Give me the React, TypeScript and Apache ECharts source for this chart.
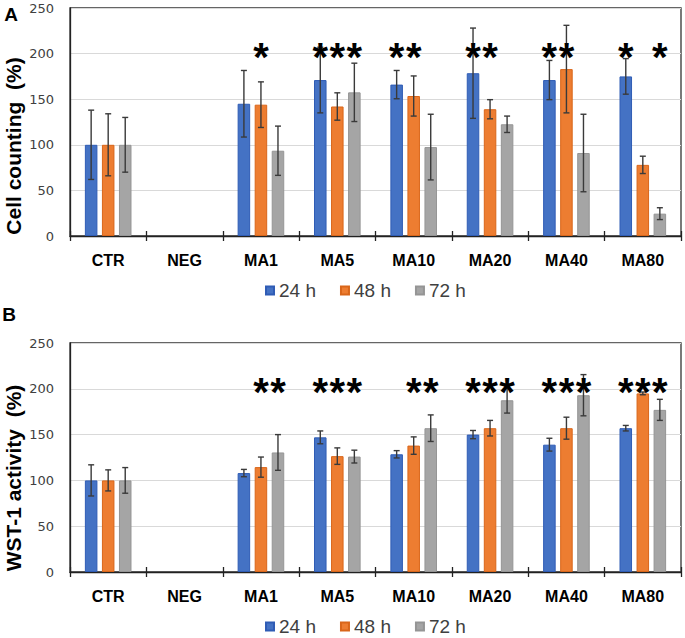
import React, { useEffect, useRef } from "react";
import * as echarts from "echarts";

// ---------- data ----------
const categories = ["CTR", "NEG", "MA1", "MA5", "MA10", "MA20", "MA40", "MA80"];
const seriesNames = ["24 h", "48 h", "72 h"];
const yTicks = [0, 50, 100, 150, 200, 250];

// Panel A: Cell counting (%)
const cell24 = [100, null, 145, 171, 166, 178.5, 171, 175];
const cell48 = [100, null, 144, 142, 153.5, 139, 183, 78];
const cell72 = [100, null, 93.5, 157.5, 97.5, 122.5, 91, 24.5];
const cellErr24 = [38, null, 36.5, 36, 15.5, 49.5, 21.5, 19.5];
const cellErr48 = [34, null, 25, 15, 22, 10.5, 48, 9.5];
const cellErr72 = [30, null, 27, 32, 36, 9, 42.5, 6.5];
// stars: indices of bars (0=24h,1=48h,2=72h) marked with "*"
const cellStars = [[], [], [1], [0, 1, 2], [0, 1], [0, 1], [0, 1], [0, 2]];

// Panel B: WST-1 activity (%)
const wst24 = [100, null, 108, 147, 128.5, 150, 139, 157];
const wst48 = [100, null, 114.5, 126.5, 138, 157, 157, 195];
const wst72 = [100, null, 130.5, 126, 157, 187.5, 193, 177];
const wstErr24 = [17, null, 4, 7, 4, 4.5, 7, 3];
const wstErr48 = [11.5, null, 11, 9, 9.5, 8.5, 12, 1.5];
const wstErr72 = [14, null, 19.5, 7, 14.5, 14, 22.5, 11.5];
const wstStars = [[], [], [1, 2], [0, 1, 2], [1, 2], [0, 1, 2], [0, 1, 2], [0, 1, 2]];

const starLevel = 207;

// ---------- style ----------
const colors = ["#4472C4", "#ED7D31", "#A5A5A5"];
const borders = ["#2F5CB5", "#D9661A", "#959595"];
const BAR_W = 0.164; // fraction of band
const BAR_GAP = 0.36; // fraction of bar width
const OFFSET = BAR_W * (1 + BAR_GAP);
const ERR_COLOR = "#3a3a3a";

function errData(vals: (number | null)[], errs: (number | null)[]) {
  const out: number[][] = [];
  vals.forEach((v, i) => {
    const e = errs[i];
    if (v != null && e != null) out.push([i, v - e, v + e]);
  });
  return out;
}

function starData(stars: number[][]) {
  const out: number[][] = [];
  stars.forEach((list, i) => list.forEach((k) => out.push([i, k, starLevel])));
  return out;
}

const errRender = (k: number) => (params: any, api: any) => {
  const cat = api.value(0);
  const lo = api.value(1);
  const hi = api.value(2);
  const band = api.size([1, 0])[0];
  const dx = (k - 1) * OFFSET * band;
  const top = api.coord([cat, hi]);
  const bot = api.coord([cat, lo]);
  const x = top[0] + dx;
  const cap = 3;
  const style = { stroke: ERR_COLOR, lineWidth: 1.4 };
  return {
    type: "group",
    children: [
      { type: "line", shape: { x1: x, y1: top[1], x2: x, y2: bot[1] }, style },
      { type: "line", shape: { x1: x - cap, y1: top[1], x2: x + cap, y2: top[1] }, style },
      { type: "line", shape: { x1: x - cap, y1: bot[1], x2: x + cap, y2: bot[1] }, style },
    ],
  };
};

const STAR_SIZE = 40;
const starRender = (params: any, api: any) => {
  const cat = api.value(0);
  const k = api.value(1);
  const lvl = api.value(2);
  const band = api.size([1, 0])[0];
  const p = api.coord([cat, lvl]);
  return {
    type: "text",
    x: p[0] + (k - 1) * OFFSET * band,
    y: p[1] + STAR_SIZE * 0.24,
    style: {
      text: "*",
      fontSize: STAR_SIZE,
      fontWeight: "bold",
      fontFamily: "Liberation Sans, Arial, sans-serif",
      fill: "#000",
      align: "center",
      verticalAlign: "middle",
    },
  };
};

function panelSeries(
  grid: number,
  vals: (number | null)[][],
  errs: (number | null)[][],
  stars: number[][]
) {
  const list: any[] = [];
  vals.forEach((v, k) => {
    list.push({
      type: "bar",
      name: seriesNames[k],
      xAxisIndex: grid,
      yAxisIndex: grid,
      data: v.map((x) => (x == null ? "-" : x)),
      barWidth: BAR_W * 100 + "%",
      barGap: BAR_GAP * 100 + "%",
      itemStyle: { color: colors[k], borderColor: borders[k], borderWidth: 1 },
    });
  });
  errs.forEach((e, k) => {
    list.push({
      type: "custom",
      name: "err" + grid + k,
      xAxisIndex: grid,
      yAxisIndex: grid,
      renderItem: errRender(k),
      encode: { x: 0, y: [1, 2] },
      data: errData(vals[k], e),
      z: 4,
      clip: false,
    });
  });
  list.push({
    type: "custom",
    name: "stars" + grid,
    xAxisIndex: grid,
    yAxisIndex: grid,
    renderItem: starRender,
    encode: { x: 0, y: 2 },
    data: starData(stars),
    z: 5,
    clip: false,
  });
  return list;
}

export default function App() {
  const ref = useRef<HTMLDivElement>(null);
  useEffect(() => {
    if (!ref.current) return;
    const chart = echarts.init(ref.current, undefined, { renderer: "svg" });

    const grids = [
      { left: 70, top: 8, width: 611, height: 228 },
      { left: 70, top: 343, width: 611, height: 229 },
    ];

    const xAxisMain = (g: number) => ({
      type: "category",
      gridIndex: g,
      data: categories,
      axisLine: { show: true, lineStyle: { color: "#222", width: 1.3 } },
      axisTick: { show: true, length: 5, lineStyle: { color: "#222", width: 1.3 } },
      axisLabel: {
        margin: 16,
        color: "#000",
        fontSize: 16,
        fontWeight: "bold",
        fontFamily: "Liberation Sans, Arial, sans-serif",
        interval: 0,
      },
      splitLine: { show: false },
    });
    const xAxisInside = (g: number) => ({
      type: "category",
      gridIndex: g,
      data: categories,
      position: "bottom",
      axisLine: { show: false },
      axisTick: { show: true, inside: true, length: 5, lineStyle: { color: "#222", width: 1.3 } },
      axisLabel: { show: false },
      splitLine: { show: false },
    });
    const yAxis = (g: number) => ({
      type: "value",
      gridIndex: g,
      min: yTicks[0],
      max: yTicks[yTicks.length - 1],
      interval: yTicks[1] - yTicks[0],
      axisLine: { show: true, lineStyle: { color: "#222", width: 1.3 } },
      axisTick: { show: false },
      axisLabel: {
        margin: 16,
        color: "#404040",
        fontSize: 13,
        fontFamily: "DejaVu Sans, Verdana, sans-serif",
      },
      splitLine: { show: true, lineStyle: { color: "#d9d9d9", width: 1 } },
    });

    const legend = (top: number) => ({
      data: seriesNames,
      left: 265,
      top,
      padding: 0,
      icon: "rect",
      itemWidth: 8,
      itemHeight: 8,
      itemGap: 24,
      selectedMode: false,
      textStyle: {
        fontSize: 19,
        color: "#404040",
        fontFamily: "Liberation Sans, Arial, sans-serif",
        padding: [0, 0, 0, 0],
      },
    });

    const nameText = (text: string, x: number, y: number) => ({
      type: "text",
      x,
      y,
      rotation: Math.PI / 2,
      style: {
        text,
        fontSize: 21,
        fontWeight: "bold",
        fontFamily: "Liberation Sans, Arial, sans-serif",
        fill: "#000",
        align: "center",
        verticalAlign: "middle",
      },
    });
    const panelLetter = (text: string, x: number, y: number) => ({
      type: "text",
      x,
      y,
      style: {
        text,
        fontSize: 19,
        fontWeight: "bold",
        fontFamily: "Liberation Sans, Arial, sans-serif",
        fill: "#000",
        align: "center",
        verticalAlign: "middle",
      },
    });

    chart.setOption({
      animation: false,
      grid: grids.map((g) => ({
        ...g,
        show: true,
        borderColor: "#333",
        borderWidth: 1.3,
        backgroundColor: "transparent",
      })),
      xAxis: [xAxisMain(0), xAxisMain(1), xAxisInside(0), xAxisInside(1)],
      yAxis: [yAxis(0), yAxis(1)],
      legend: [legend(281), legend(617)],
      graphic: [
        nameText("Cell counting  (%)", 13, 146),
        nameText("WST-1 activity  (%)", 13, 478),
        panelLetter("A", 11, 14),
        panelLetter("B", 9, 314),
      ],
      series: [
        ...panelSeries(0, [cell24, cell48, cell72], [cellErr24, cellErr48, cellErr72], cellStars),
        ...panelSeries(1, [wst24, wst48, wst72], [wstErr24, wstErr48, wstErr72], wstStars),
      ],
    });
    return () => chart.dispose();
  }, []);
  return (
    <div
      ref={ref}
      style={{ position: "absolute", left: 0, top: 0, width: 685, height: 638, background: "#fff" }}
    />
  );
}
